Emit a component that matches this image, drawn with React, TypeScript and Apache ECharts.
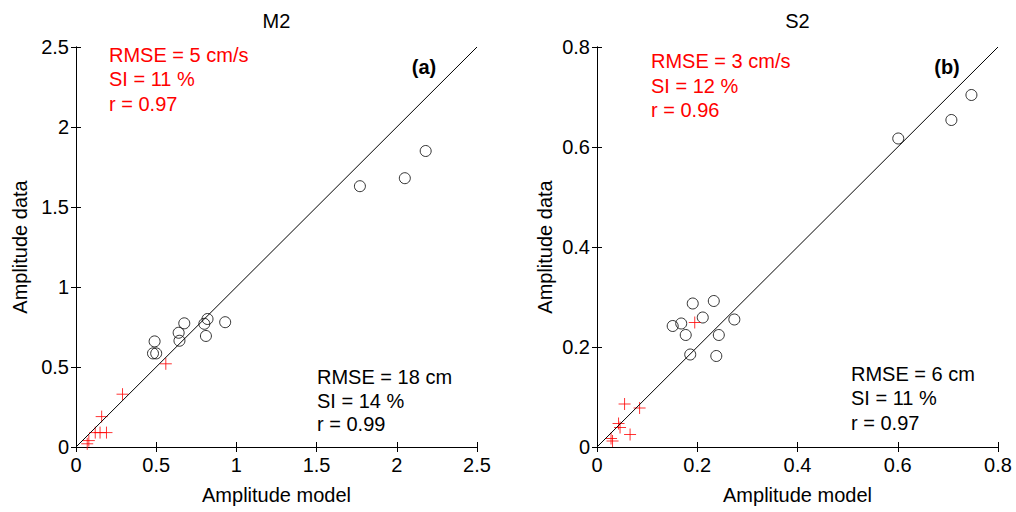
import React, { useEffect, useRef } from "react";
import * as echarts from "echarts";

// M2 panel (a): amplitude model vs. data
const m2Circles: number[][] = [
  [1.77, 1.63], [2.05, 1.68], [2.18, 1.85],
  [0.49, 0.66], [0.48, 0.585], [0.5, 0.585],
  [0.675, 0.773], [0.64, 0.714], [0.645, 0.664],
  [0.82, 0.8], [0.8, 0.77], [0.81, 0.694], [0.93, 0.78],
];
const m2Crosses: number[][] = [
  [0.56, 0.52], [0.29, 0.33], [0.16, 0.19], [0.12, 0.09],
  [0.15, 0.09], [0.19, 0.09], [0.08, 0.04], [0.07, 0.02],
];

// S2 panel (b)
const s2Circles: number[][] = [
  [0.601, 0.617], [0.707, 0.654], [0.747, 0.704],
  [0.191, 0.287], [0.233, 0.292], [0.211, 0.259], [0.274, 0.255],
  [0.151, 0.242], [0.168, 0.247], [0.177, 0.224], [0.243, 0.224],
  [0.186, 0.185], [0.238, 0.182],
];
const s2Crosses: number[][] = [
  [0.195, 0.249], [0.055, 0.086], [0.085, 0.078], [0.043, 0.047],
  [0.046, 0.039], [0.066, 0.025], [0.028, 0.017], [0.031, 0.012],
];

const panelTitles = ["M2", "S2"];
const panelTags = ["(a)", "(b)"];
const axisMax = [2.5, 0.8];
const axisStep = [0.5, 0.2];
const redStats = [
  ["RMSE = 5 cm/s", "SI = 11 %", "r = 0.97"],
  ["RMSE = 3 cm/s", "SI = 12 %", "r = 0.96"],
];
const blackStats = [
  ["RMSE = 18 cm", "SI = 14 %", "r = 0.99"],
  ["RMSE = 6 cm", "SI = 11 %", "r = 0.97"],
];

const FONT = "'Liberation Sans', Arial, Helvetica, sans-serif";
const CROSS = "path://M0,6L12,6M6,0L6,12";

export default function App() {
  const ref = useRef<HTMLDivElement>(null);

  useEffect(() => {
    if (!ref.current) return;
    const chart = echarts.init(ref.current, null, { renderer: "svg" });

    const grids = [
      { left: 76, top: 47, width: 401, height: 400 },
      { left: 597, top: 47, width: 401, height: 400 },
    ];

    const xAxes: any[] = [];
    const yAxes: any[] = [];
    const series: any[] = [];
    const graphics: any[] = [];

    const tickStyle = { show: true, inside: true, length: 5, lineStyle: { color: "#000", width: 1 } };
    const lineStyle = { show: true, lineStyle: { color: "#000", width: 1 } };

    [0, 1].forEach((p) => {
      const common = {
        type: "value",
        gridIndex: p,
        min: 0,
        max: axisMax[p],
        interval: axisStep[p],
        splitLine: { show: false },
        axisLine: lineStyle,
        axisTick: tickStyle,
      };
      // bottom / left labelled axes
      xAxes.push({
        ...common,
        position: "bottom",
        name: "Amplitude model",
        nameLocation: "middle",
        nameGap: 38,
        nameTextStyle: { fontFamily: FONT, fontSize: 20, color: "#000" },
        axisLabel: { fontFamily: FONT, fontSize: 20, color: "#000", margin: 8 },
      });
      yAxes.push({
        ...common,
        position: "left",
        name: "Amplitude data",
        nameLocation: "middle",
        nameGap: p === 0 ? 46 : 42,
        nameTextStyle: { fontFamily: FONT, fontSize: 20, color: "#000" },
        axisLabel: { fontFamily: FONT, fontSize: 20, color: "#000", margin: 7 },
      });
      // top / right box edges with inward ticks
      xAxes.push({ ...common, position: "top", axisLabel: { show: false } });
      yAxes.push({ ...common, position: "right", axisLabel: { show: false } });

      const xi = p * 2;
      const yi = p * 2;
      series.push({
        type: "line",
        xAxisIndex: xi,
        yAxisIndex: yi,
        data: [[0, 0], [axisMax[p], axisMax[p]]],
        symbol: "none",
        silent: true,
        lineStyle: { color: "#000", width: 1 },
      });
      series.push({
        type: "scatter",
        xAxisIndex: xi,
        yAxisIndex: yi,
        data: p === 0 ? m2Circles : s2Circles,
        symbol: "circle",
        symbolSize: 11,
        itemStyle: { color: "transparent", borderColor: "#000", borderWidth: 1 },
      });
      series.push({
        type: "scatter",
        xAxisIndex: xi,
        yAxisIndex: yi,
        data: p === 0 ? m2Crosses : s2Crosses,
        symbol: CROSS,
        symbolSize: 12,
        itemStyle: { color: "transparent", borderColor: "#ff0000", borderWidth: 1 },
      });

      const g = grids[p];
      graphics.push({
        type: "text",
        x: g.left + g.width / 2,
        y: 21,
        style: { text: panelTitles[p], fontFamily: FONT, fontSize: 20, fill: "#000", align: "center", verticalAlign: "middle" },
      });
      graphics.push({
        type: "text",
        x: p === 0 ? 424 : 947,
        y: 67,
        style: { text: panelTags[p], fontFamily: FONT, fontSize: 20, fontWeight: "bold", fill: "#000", align: "center", verticalAlign: "middle" },
      });
      const redX = p === 0 ? 109 : 651;
      const redY = p === 0 ? [55, 79, 104] : [61, 85.5, 110];
      redStats[p].forEach((t, i) => {
        graphics.push({
          type: "text",
          x: redX,
          y: redY[i],
          style: { text: t, fontFamily: FONT, fontSize: 20, fill: "#ff0000", align: "left", verticalAlign: "middle" },
        });
      });
      const blkX = p === 0 ? 317 : 851;
      const blkY = p === 0 ? [377, 401, 424] : [374, 398, 423];
      blackStats[p].forEach((t, i) => {
        graphics.push({
          type: "text",
          x: blkX,
          y: blkY[i],
          style: { text: t, fontFamily: FONT, fontSize: 20, fill: "#000", align: "left", verticalAlign: "middle" },
        });
      });
    });

    chart.setOption({
      animation: false,
      backgroundColor: "#fff",
      grid: grids,
      xAxis: xAxes,
      yAxis: yAxes,
      series,
      graphic: graphics,
    });

    return () => chart.dispose();
  }, []);

  return (
    <div
      ref={ref}
      style={{ position: "absolute", left: 0, top: 0, width: 1016, height: 512 }}
    />
  );
}
